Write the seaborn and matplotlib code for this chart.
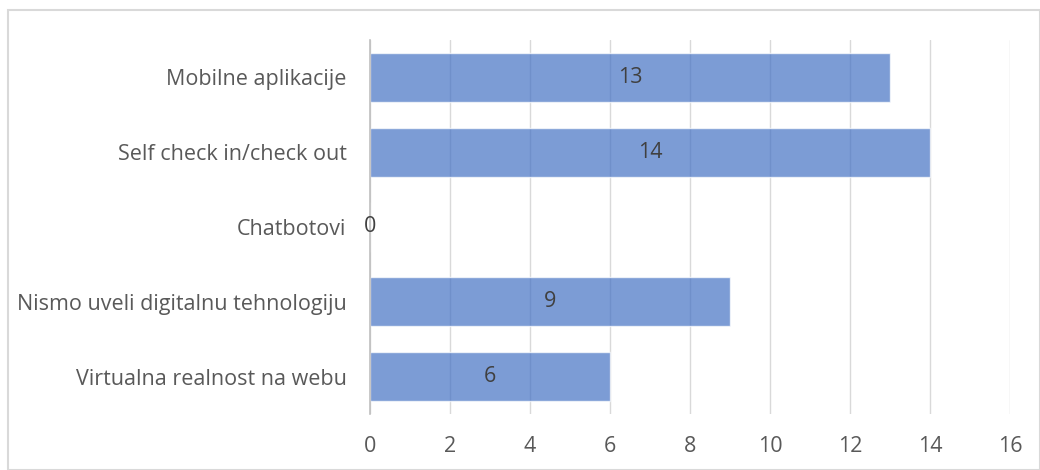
import matplotlib
matplotlib.use("Agg")
import matplotlib.pyplot as plt
import seaborn as sns
import pandas as pd
from matplotlib.patches import Rectangle

categories = ["Mobilne aplikacije", "Self check in/check out", "Chatbotovi",
              "Nismo uveli digitalnu tehnologiju", "Virtualna realnost na webu"]
values = [13, 14, 0, 9, 6]
xticks = [0, 2, 4, 6, 8, 10, 12, 14, 16]

sns.set_theme(style="white")
plt.rcParams['font.family'] = ['Open Sans', 'DejaVu Sans']

df = pd.DataFrame({"cat": categories, "val": values})

fig = plt.figure(figsize=(10.4, 4.7), dpi=100)
ax = fig.add_axes([370/1040, 1-414/470, 640/1040, 374/470])

sns.barplot(data=df, x="val", y="cat", order=categories, orient="h",
            color="#4472C4", alpha=0.7, width=0.66, ax=ax, saturation=1)

ax.set_xlim(0, 16)
ax.set_ylim(4.5, -0.5)
ax.set_xticks(xticks)
ax.set_xlabel("")
ax.set_ylabel("")
ax.set_axisbelow(True)
ax.grid(axis="x", color="#D9D9D9", linewidth=1)
ax.grid(axis="y", visible=False)
for s in ["top", "right", "bottom"]:
    ax.spines[s].set_visible(False)
ax.spines["left"].set_color("#BFBFBF")
ax.spines["left"].set_linewidth(1.2)
ax.tick_params(axis="x", length=0, pad=16, labelsize=15.5, labelcolor="#595959")
ax.tick_params(axis="y", length=0, pad=17, labelsize=15.5, labelcolor="#595959")

for c in ax.containers:
    ax.bar_label(c, labels=[str(v) for v in values], label_type="center",
                 fontsize=15.5, color="#404040")

fig.patches.append(Rectangle((8/1040, 0), 1 - 8/1040 - 0.5/1040, 1 - 10/470,
                             transform=fig.transFigure, fill=False,
                             edgecolor="#D9D9D9", linewidth=1.5))

fig.savefig("out.png", dpi=100, facecolor="white")
